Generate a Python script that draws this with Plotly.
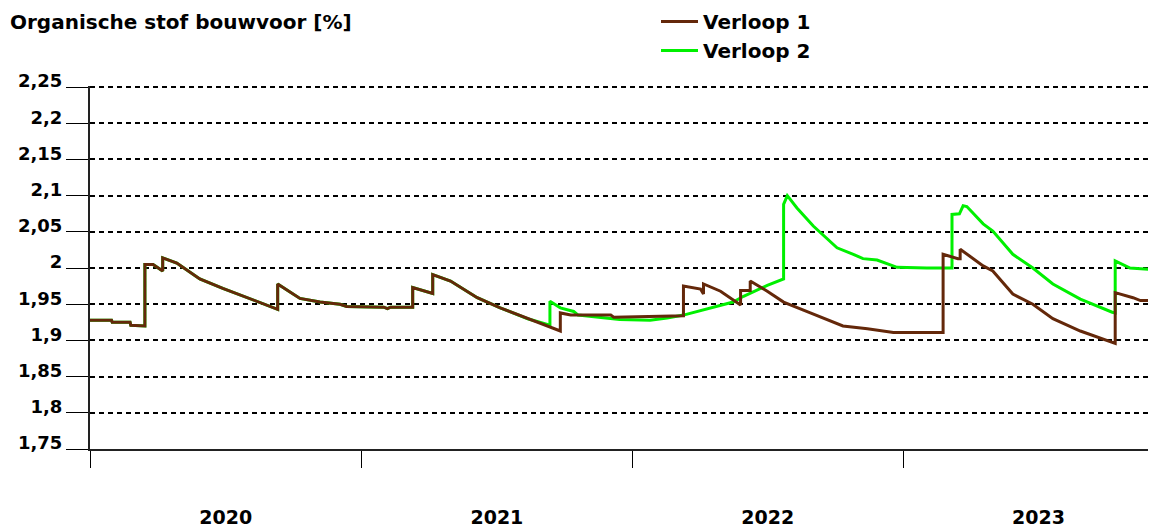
import plotly.graph_objects as go

# Verloop 1 (brown)
dates1 = [
    "2020-01-01", "2020-01-30", "2020-01-31", "2020-02-24", "2020-02-25", "2020-03-15", "2020-03-15",
    "2020-03-26", "2020-04-08", "2020-04-08", "2020-04-27", "2020-05-28", "2020-06-28", "2020-07-31",
    "2020-09-06", "2020-09-10", "2020-09-10", "2020-10-10", "2020-11-06", "2020-12-03", "2020-12-12",
    "2021-01-31", "2021-02-05", "2021-02-09", "2021-03-11", "2021-03-11", "2021-04-07", "2021-04-07",
    "2021-05-01", "2021-06-06", "2021-07-07", "2021-08-13", "2021-09-17", "2021-09-26", "2021-09-26",
    "2021-10-10", "2021-12-03", "2021-12-07", "2022-03-11", "2022-03-11", "2022-04-03", "2022-04-07",
    "2022-04-07", "2022-04-30", "2022-05-27", "2022-05-27", "2022-06-09", "2022-06-09", "2022-07-02",
    "2022-07-24", "2022-08-29", "2022-10-12", "2022-11-14", "2022-12-19", "2023-02-24", "2023-02-24",
    "2023-03-16", "2023-03-19", "2023-03-19", "2023-04-19", "2023-05-02", "2023-05-29", "2023-06-25",
    "2023-07-22", "2023-08-28", "2023-10-12", "2023-10-14", "2023-10-14", "2023-11-07", "2023-11-17",
    "2023-11-30", "2023-12-08",
]
values1 = [
    1.928, 1.928, 1.925, 1.925, 1.921, 1.920, 2.005,
    2.005, 1.996, 2.014, 2.007, 1.985, 1.972, 1.959,
    1.944, 1.943, 1.978, 1.958, 1.953, 1.950, 1.947,
    1.946, 1.944, 1.946, 1.946, 1.973, 1.965, 1.991,
    1.982, 1.959, 1.945, 1.930, 1.916, 1.913, 1.938,
    1.935, 1.935, 1.932, 1.934, 1.975, 1.971, 1.964,
    1.978, 1.968, 1.949, 1.969, 1.969, 1.982, 1.968,
    1.953, 1.938, 1.920, 1.916, 1.911, 1.911, 2.019,
    2.013, 2.013, 2.026, 2.003, 1.996, 1.964, 1.950,
    1.930, 1.913, 1.896, 1.896, 1.966, 1.959, 1.955,
    1.955, 1.948,
]

# Verloop 2 (green)
dates2 = [
    "2020-01-01", "2020-01-30", "2020-01-31", "2020-02-24", "2020-02-25", "2020-03-15", "2020-03-15",
    "2020-03-26", "2020-04-08", "2020-04-08", "2020-04-27", "2020-05-28", "2020-06-28", "2020-07-31",
    "2020-09-06", "2020-09-10", "2020-09-10", "2020-10-10", "2020-11-06", "2020-12-03", "2020-12-12",
    "2021-01-31", "2021-02-05", "2021-02-09", "2021-03-11", "2021-03-11", "2021-04-07", "2021-04-07",
    "2021-05-01", "2021-06-06", "2021-07-07", "2021-08-13", "2021-09-12", "2021-09-12", "2021-09-26",
    "2021-10-14", "2021-10-20", "2021-12-15", "2022-01-25", "2022-02-17", "2022-03-11", "2022-04-03",
    "2022-04-26", "2022-05-17", "2022-05-31", "2022-07-02", "2022-07-24", "2022-07-24", "2022-07-29",
    "2022-08-11", "2022-09-02", "2022-10-04", "2022-10-26", "2022-11-08", "2022-11-27", "2022-12-24",
    "2023-02-02", "2023-03-08", "2023-03-08", "2023-03-18", "2023-03-23", "2023-03-28", "2023-04-19",
    "2023-05-02", "2023-05-29", "2023-06-25", "2023-07-22", "2023-08-28", "2023-10-10", "2023-10-14",
    "2023-10-14", "2023-11-03", "2023-11-30", "2023-12-08",
]
values2 = [
    1.928, 1.928, 1.925, 1.925, 1.921, 1.920, 2.005,
    2.005, 1.996, 2.014, 2.007, 1.985, 1.972, 1.959,
    1.944, 1.943, 1.978, 1.958, 1.953, 1.950, 1.947,
    1.946, 1.944, 1.946, 1.946, 1.973, 1.965, 1.991,
    1.982, 1.959, 1.945, 1.930, 1.921, 1.954, 1.945,
    1.940, 1.935, 1.929, 1.928, 1.931, 1.935, 1.941,
    1.948, 1.953, 1.961, 1.976, 1.985, 2.088, 2.100,
    2.083, 2.058, 2.028, 2.019, 2.013, 2.011, 2.001,
    2.000, 2.000, 2.074, 2.075, 2.086, 2.085, 2.061,
    2.051, 2.019, 2.000, 1.978, 1.957, 1.939, 1.938,
    2.010, 2.000, 1.998, 1.990,
]

ytick_vals = [1.75, 1.8, 1.85, 1.9, 1.95, 2.0, 2.05, 2.1, 2.15, 2.2, 2.25]
ytick_text = ["1,75", "1,8", "1,85", "1,9", "1,95", "2", "2,05", "2,1", "2,15", "2,2", "2,25"]

title_text = "Organische stof bouwvoor [%]"
FONT = "DejaVu Sans"
W, H = 1148, 521  # page body adds an 8px offset
PLOT_TOP, PLOT_H = 78, 363

fig = go.Figure()
fig.add_trace(go.Scatter(x=dates2, y=values2, mode="lines", name="Verloop 2",
                         line=dict(color="#00F000", width=3), legendrank=2))
fig.add_trace(go.Scatter(x=dates1, y=values1, mode="lines", name="Verloop 1",
                         line=dict(color="#64280A", width=3), legendrank=1))

fig.update_layout(
    width=W, height=H,
    margin=dict(l=82, r=0, t=PLOT_TOP, b=H - PLOT_TOP - PLOT_H, autoexpand=False),
    plot_bgcolor="white", paper_bgcolor="white",
    font=dict(family=FONT, size=18, color="black", weight="bold"),
    title=dict(text=title_text, x=2 / W, xanchor="left", xref="container",
               y=1 - 14 / H, yanchor="middle", yref="container",
               font=dict(family=FONT, size=20, color="black", weight="bold")),
    legend=dict(xref="container", yref="paper", x=648 / W, y=1 + (PLOT_TOP + 6) / PLOT_H,
                yanchor="top", xanchor="left",
                font=dict(family=FONT, size=20, color="black", weight="bold"),
                bgcolor="rgba(0,0,0,0)", itemwidth=37, tracegroupgap=0),
    showlegend=True,
)
fig.update_yaxes(
    range=[1.75, 2.2515], tickvals=ytick_vals, ticktext=ytick_text,
    ticks="outside", ticklen=22, tickwidth=1, tickcolor="black",
    showline=True, linecolor="#222", linewidth=2,
    showgrid=True, gridcolor="black", gridwidth=1.5, griddash="5px,4px",
    zeroline=False, ticklabelshift=-6,
    tickfont=dict(family=FONT, size=18, color="black", weight="bold"),
)
fig.update_xaxes(
    type="date", range=["2020-01-01", "2023-12-08"],
    tick0="2020-01-01", dtick="M12", tickformat="%Y", ticklabelmode="period",
    ticks="outside", ticklen=17, tickwidth=1, tickcolor="black",
    showline=True, linecolor="#222", linewidth=2,
    showgrid=False, zeroline=False, ticklabelstandoff=33,
    tickfont=dict(family=FONT, size=19, color="black", weight="bold"),
)

fig.write_html("out.html")
